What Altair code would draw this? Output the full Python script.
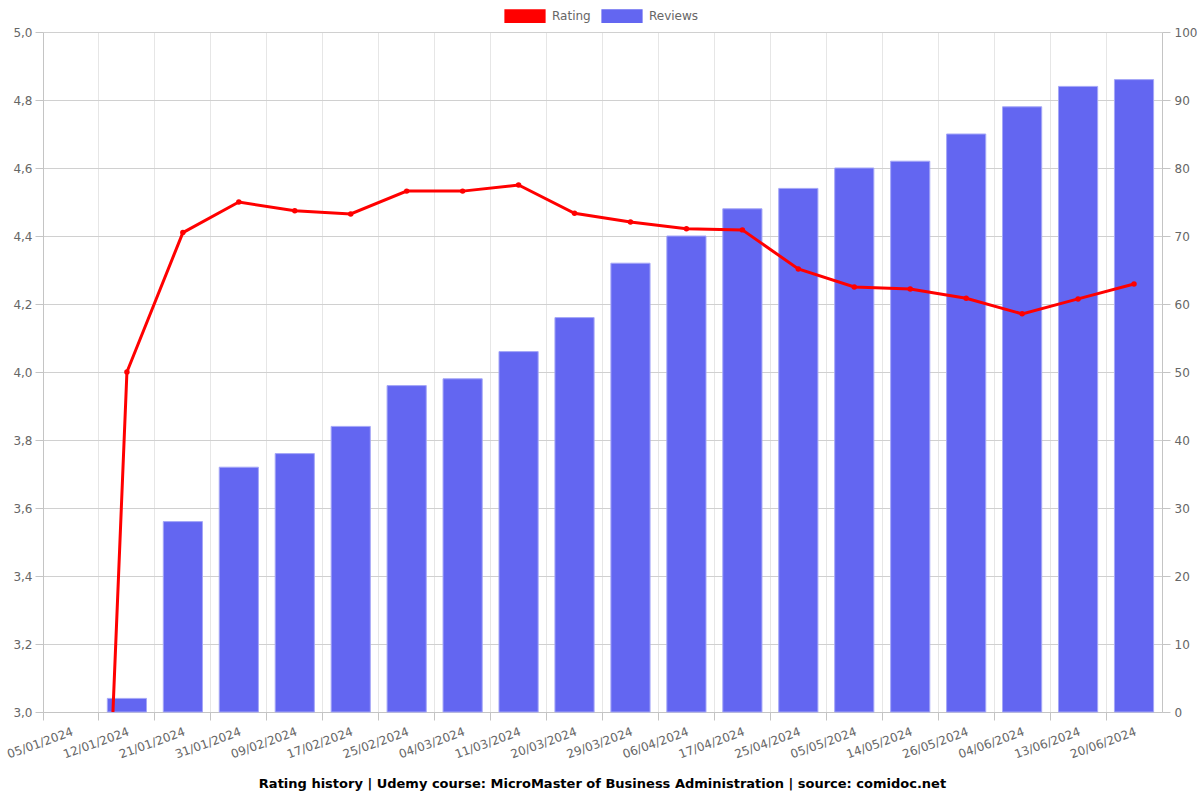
import altair as alt
import pandas as pd

dates = ["05/01/2024", "12/01/2024", "21/01/2024", "31/01/2024", "09/02/2024",
         "17/02/2024", "25/02/2024", "04/03/2024", "11/03/2024", "20/03/2024",
         "29/03/2024", "06/04/2024", "17/04/2024", "25/04/2024", "05/05/2024",
         "14/05/2024", "26/05/2024", "04/06/2024", "13/06/2024", "20/06/2024"]
reviews = [0, 2, 28, 36, 38, 42, 48, 49, 53, 58, 66, 70, 74, 77, 80, 81, 85, 89, 92, 93]
ratings = [0, 4.0, 4.41, 4.50, 4.474, 4.465, 4.532, 4.532, 4.55, 4.467, 4.441,
           4.421, 4.418, 4.303, 4.25, 4.244, 4.217, 4.171, 4.215, 4.259]
series_names = ["Rating", "Reviews"]
series_colors = ["#ff0000", "#6366f1"]
rating_ticks = [3.0, 3.2, 3.4, 3.6, 3.8, 4.0, 4.2, 4.4, 4.6, 4.8, 5.0]
review_ticks = [0, 10, 20, 30, 40, 50, 60, 70, 80, 90, 100]

df = pd.DataFrame({"date": dates, "reviews": reviews, "rating": ratings,
                   "series": ["Reviews"] * len(dates)})

FONT = "DejaVu Sans"
LABEL = "#666666"
GRID = "#e6e6e6"
HGRID = "#d0d0d0"
DOMAIN = "#c4c4c4"

xscale = alt.Scale(domain=dates, paddingInner=0, paddingOuter=0)

x_grid_axis = alt.Axis(orient="bottom", bandPosition=0, grid=True, gridColor=GRID,
                       ticks=True, tickSize=8, tickColor=DOMAIN, labels=False,
                       domain=True, domainColor=DOMAIN, title=None)
x_label_axis = alt.Axis(orient="bottom", bandPosition=0.5, grid=False, ticks=False,
                        domain=False, labelAngle=-20, labelAlign="right",
                        labelBaseline="top", labelPadding=14, labelFont=FONT,
                        labelFontSize=12, labelColor=LABEL, title=None,
                        labelOverlap=False)

bars = alt.Chart(df).transform_filter("datum.reviews > 0").mark_bar(
    width=alt.RelativeBandSize(0.7), stroke="#a5a7f7", strokeWidth=1
).encode(
    x=alt.X("date:N", scale=xscale, axis=x_grid_axis, sort=dates),
    y=alt.Y("reviews:Q", scale=alt.Scale(domain=[0, 100], nice=False),
            axis=alt.Axis(orient="right", values=review_ticks, grid=False,
                          tickSize=8, tickColor=DOMAIN, domainColor=DOMAIN,
                          labelPadding=4, labelFont=FONT, labelFontSize=12,
                          labelColor=LABEL, title=None)),
    color=alt.Color("series:N", scale=alt.Scale(domain=series_names, range=series_colors),
                    legend=alt.Legend(orient="none", legendX=461, legendY=-37,
                                      direction="horizontal", title=None,
                                      symbolType="M-1,-0.33H1V0.33H-1Z",
                                      symbolSize=1700, symbolStrokeWidth=0,
                                      labelFont=FONT, labelFontSize=12,
                                      labelColor=LABEL, labelOffset=6,
                                      columnPadding=10)),
)

yrating = alt.Y("rating:Q", scale=alt.Scale(domain=[3, 5], nice=False),
                axis=alt.Axis(orient="left", values=rating_ticks, grid=True,
                              gridColor=HGRID, tickSize=8, tickColor=DOMAIN,
                              domainColor=DOMAIN, labelPadding=3,
                              labelExpr="replace(format(datum.value, '.1f'), '.', ',')",
                              labelFont=FONT, labelFontSize=12, labelColor=LABEL,
                              title=None))

line = alt.Chart(df).mark_line(color="#ff0000", strokeWidth=3, clip=True).encode(
    x=alt.X("date:N", scale=xscale, axis=x_label_axis, sort=dates),
    y=yrating,
)
points = alt.Chart(df).mark_circle(color="#ff0000", size=30, opacity=1, clip=True).encode(
    x=alt.X("date:N", scale=xscale, sort=dates, axis=None),
    y=alt.Y("rating:Q", scale=alt.Scale(domain=[3, 5], nice=False), axis=None),
)

chart = alt.layer(bars, line, points).resolve_scale(
    y="independent"
).resolve_axis(x="independent").properties(
    width=1119, height=680,
    autosize=alt.AutoSizeParams(type="none"),
    padding={"left": 43, "top": 32, "right": 38, "bottom": 88},
    title=alt.TitleParams(
        "Rating history | Udemy course: MicroMaster of Business Administration | source: comidoc.net",
        orient="bottom", anchor="middle", font=FONT, fontSize=13,
        fontWeight="bold", color="#000000", offset=18),
).configure_view(stroke=None)

chart.save("out.html", embed_options={"renderer": "svg", "actions": False})
